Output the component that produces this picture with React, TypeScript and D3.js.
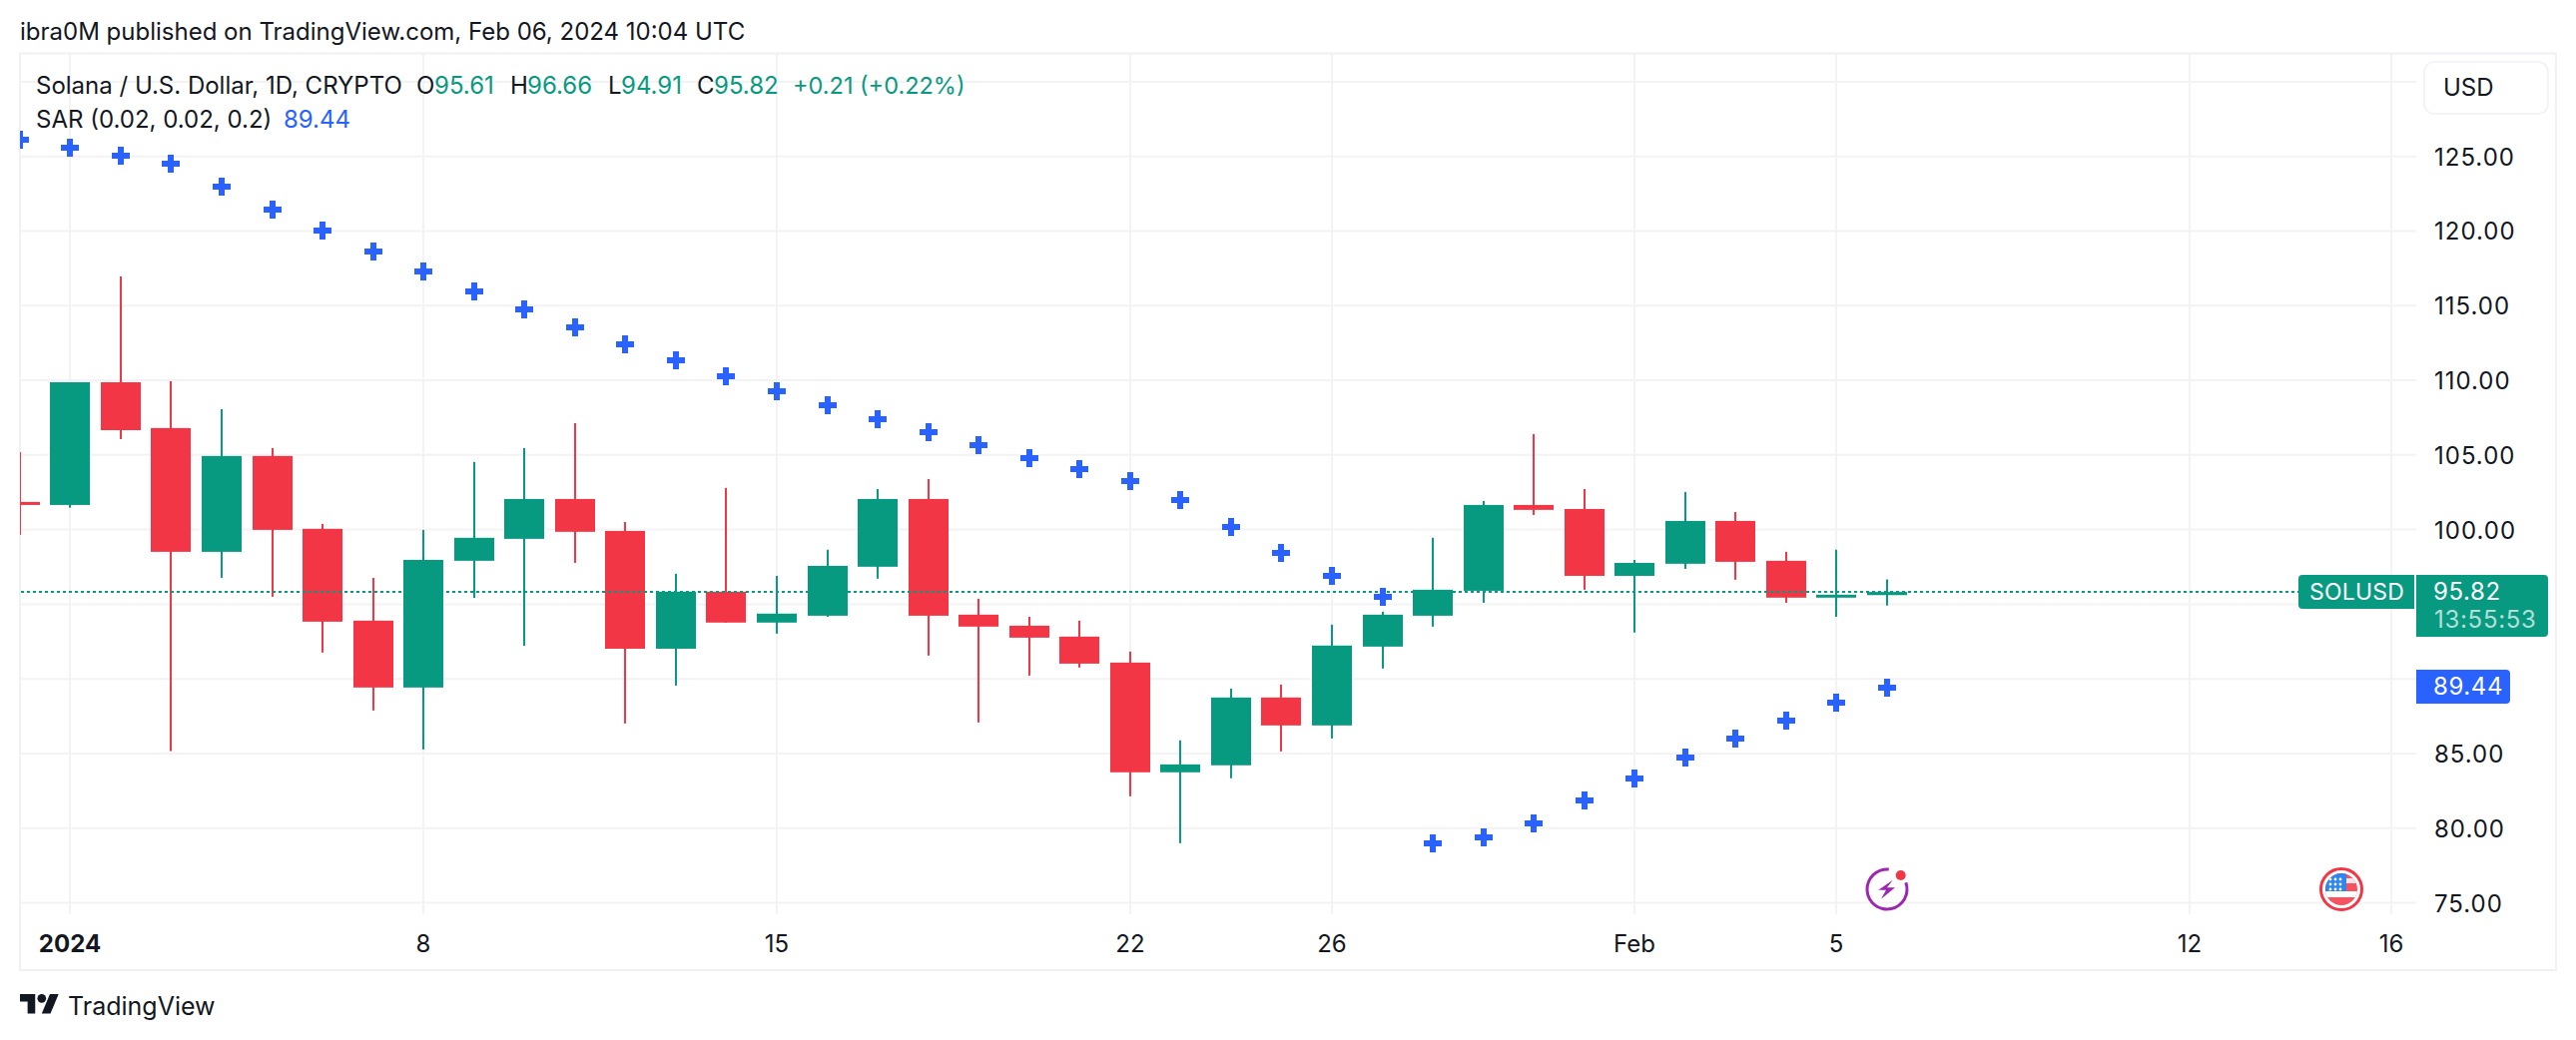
import React, { useEffect, useRef } from "react";
import * as d3 from "d3";

// Daily candles, Dec 31 2023 to Feb 6 2024
const firstDay = Date.UTC(2023, 11, 31);
const dayMs = 24 * 60 * 60 * 1000;

const opens = [
  101.85, 101.65, 109.87, 106.8, 98.51, 104.93, 100.05, 93.9, 89.42, 97.91,
  99.38, 102.05, 99.91, 92.02, 95.84, 93.77, 94.23, 97.51, 102.05, 94.3, 93.56,
  92.83, 91.09, 83.74, 84.21, 88.75, 86.88, 92.16, 94.23, 95.9, 101.65, 101.38,
  96.9, 97.71, 100.58, 97.91, 95.44, 95.61,
];
const highs = [
  105.19, 109.87, 116.96, 109.94, 108.07, 105.46, 100.38, 96.77, 99.98, 104.53,
  105.46, 107.13, 100.51, 97.04, 102.79, 96.9, 98.65, 102.72, 103.39, 95.37,
  94.16, 93.9, 91.83, 85.88, 89.35, 89.62, 93.63, 94.5, 99.45, 101.92, 106.4,
  102.72, 97.97, 102.52, 101.18, 98.51, 98.65, 96.66,
];
const lows = [
  99.65, 101.47, 106.06, 85.16, 96.77, 95.5, 91.76, 87.88, 85.27, 95.43, 92.22,
  97.77, 87.01, 89.55, 93.77, 93.03, 94.16, 96.71, 91.56, 87.08, 90.22, 90.76,
  82.13, 78.99, 83.34, 85.14, 86.01, 90.69, 93.5, 95.1, 100.98, 95.97, 93.1,
  97.37, 96.64, 95.1, 94.16, 94.91,
];
const closes = [
  101.65, 109.87, 106.66, 98.51, 104.93, 99.98, 93.83, 89.42, 97.97, 99.45,
  102.05, 99.85, 92.02, 95.84, 93.77, 94.37, 97.57, 102.05, 94.23, 93.5, 92.76,
  91.02, 83.74, 84.27, 88.75, 86.88, 92.23, 94.3, 95.97, 101.65, 101.32, 96.9,
  97.77, 100.58, 97.84, 95.44, 95.64, 95.82,
];
const sar = [
  126.12, 125.58, 125.05, 124.51, 122.97, 121.44, 120.03, 118.63, 117.29,
  115.96, 114.75, 113.55, 112.41, 111.34, 110.29, 109.3, 108.34, 107.4, 106.53,
  105.66, 104.79, 104.06, 103.26, 101.99, 100.18, 98.44, 96.91, 95.5, 78.99,
  79.39, 80.33, 81.87, 83.34, 84.74, 86.01, 87.21, 88.42, 89.44,
];

const priceTicks = [75, 80, 85, 90, 95, 100, 105, 110, 115, 120, 125, 130];
// 90 and 95 sit behind the price tags
const priceLabels = [75, 80, 85, 100, 105, 110, 115, 120, 125];
// day offsets from Jan 1 2024
const timeTicks = [0, 7, 14, 21, 25, 31, 35, 42, 46];
const timeLabels = ["2024", "8", "15", "22", "26", "Feb", "5", "12", "16"];

const lastPrice = 95.82;
const lastSar = 89.44;
const earningsDay = 36;
const usEventDay = 45;

const green = "#089981";
const red = "#f23645";
const blue = "#2962ff";
const ink = "#131722";
const gridColor = "#f3f3f5";
const frameColor = "#f0f0f6";
const font = "Inter, sans-serif";

const App = () => {
  const ref = useRef<SVGSVGElement>(null);

  useEffect(() => {
    const svg = d3.select(ref.current);
    svg.selectAll("*").remove();

    const dayX = d3
      .scaleUtc()
      .domain([new Date(Date.UTC(2024, 0, 1)), new Date(Date.UTC(2024, 1, 16))])
      .range([70, 2395]);
    const x = (i: number) =>
      Math.round(dayX(new Date(firstDay + i * dayMs)) + 0.4);
    const tickX = (d: number) => x(d + 1);
    const y = d3.scaleLinear().domain([75, 125]).range([904.5, 156.7]);

    const text = (
      px: number,
      py: number,
      str: string,
      fill = ink,
      size = 24,
      spacing = 0
    ) =>
      svg
        .append("text")
        .attr("x", px)
        .attr("y", py)
        .attr("font-family", font)
        .attr("font-size", size)
        .attr("letter-spacing", spacing)
        .attr("fill", fill)
        .text(str);

    svg
      .append("clipPath")
      .attr("id", "pane")
      .append("rect")
      .attr("x", 20)
      .attr("y", 54)
      .attr("width", 2400)
      .attr("height", 862);

    // Grid
    svg
      .selectAll(".h-grid")
      .data(priceTicks)
      .enter()
      .append("line")
      .attr("class", "h-grid")
      .attr("x1", 21)
      .attr("x2", 2420)
      .attr("y1", (d) => y(d))
      .attr("y2", (d) => y(d))
      .attr("stroke", gridColor)
      .attr("stroke-width", 2);

    svg
      .selectAll(".v-grid")
      .data(timeTicks)
      .enter()
      .append("line")
      .attr("class", "v-grid")
      .attr("x1", (d) => tickX(d))
      .attr("x2", (d) => tickX(d))
      .attr("y1", 54)
      .attr("y2", 916)
      .attr("stroke", gridColor)
      .attr("stroke-width", 2);

    // Frame
    svg
      .append("rect")
      .attr("x", 20)
      .attr("y", 53.5)
      .attr("width", 2540)
      .attr("height", 918.5)
      .attr("fill", "none")
      .attr("stroke", frameColor)
      .attr("stroke-width", 2);

    const pane = svg.append("g").attr("clip-path", "url(#pane)");

    // Wicks
    pane
      .selectAll(".wick")
      .data(opens)
      .enter()
      .append("rect")
      .attr("class", "wick")
      .attr("x", (d, i) => x(i) - 1)
      .attr("y", (d, i) => y(highs[i]))
      .attr("width", 2)
      .attr("height", (d, i) => y(lows[i]) - y(highs[i]))
      .attr("fill", (d, i) => (closes[i] >= d ? green : red));

    // Bodies
    pane
      .selectAll(".body")
      .data(opens)
      .enter()
      .append("rect")
      .attr("class", "body")
      .attr("x", (d, i) => x(i) - 20)
      .attr("y", (d, i) => y(Math.max(d, closes[i])))
      .attr("width", 40)
      .attr("height", (d, i) => Math.abs(y(d) - y(closes[i])))
      .attr("fill", (d, i) => (closes[i] >= d ? green : red));

    // Last price line
    pane
      .append("line")
      .attr("x1", 21)
      .attr("x2", 2302)
      .attr("y1", Math.round(y(lastPrice)))
      .attr("y2", Math.round(y(lastPrice)))
      .attr("stroke", green)
      .attr("stroke-width", 2)
      .attr("stroke-dasharray", "3 3");

    // Parabolic SAR crosses
    pane
      .selectAll(".sar")
      .data(sar)
      .enter()
      .append("path")
      .attr("class", "sar")
      .attr("transform", (d, i) => `translate(${x(i)}, ${Math.round(y(d))})`)
      .attr("d", "M-3-9h6v6h6v6h-6v6h-6v-6h-6v-6h6z")
      .attr("fill", blue);

    // Header and legend
    text(20, 40, "ibra0M published on TradingView.com, Feb 06, 2024 10:04 UTC");
    text(36, 94, "Solana / U.S. Dollar, 1D, CRYPTO");
    text(417, 94, "O");
    text(435, 94, "95.61", green);
    text(511, 94, "H");
    text(528, 94, "96.66", green);
    text(609, 94, "L");
    text(622, 94, "94.91", green);
    text(698, 94, "C");
    text(715, 94, "95.82", green);
    text(794, 94, "+0.21 (+0.22%)", green, 23.5);
    text(36, 128, "SAR (0.02, 0.02, 0.2)");
    text(284, 128, "89.44", blue);

    // Price axis
    svg
      .selectAll(".price-label")
      .data(priceLabels)
      .enter()
      .append("text")
      .attr("class", "price-label")
      .attr("x", 2438)
      .attr("y", (d) => y(d) + 9)
      .attr("font-family", font)
      .attr("font-size", 24)
      .attr("letter-spacing", 1)
      .attr("fill", ink)
      .text((d) => d.toFixed(2));

    svg
      .append("rect")
      .attr("x", 2428)
      .attr("y", 62)
      .attr("width", 124)
      .attr("height", 52)
      .attr("rx", 10)
      .attr("fill", "#fff")
      .attr("stroke", frameColor)
      .attr("stroke-width", 1.5);
    text(2447, 96, "USD");

    // Time axis
    svg
      .selectAll(".time-label")
      .data(timeTicks)
      .enter()
      .append("text")
      .attr("class", "time-label")
      .attr("x", (d) => tickX(d))
      .attr("y", 954)
      .attr("text-anchor", "middle")
      .attr("font-family", font)
      .attr("font-size", 24)
      .attr("font-weight", (d, i) => (i === 0 ? 700 : 400))
      .attr("fill", ink)
      .text((d, i) => timeLabels[i]);

    // Last price tags
    svg
      .append("path")
      .attr("d", "M2306 576h112v34h-112a4 4 0 0 1-4-4v-26a4 4 0 0 1 4-4z")
      .attr("fill", green);
    text(2313, 601, "SOLUSD", "#fff", 23, 0.2);
    svg
      .append("path")
      .attr("d", "M2420 576h128a4 4 0 0 1 4 4v54a4 4 0 0 1-4 4h-128z")
      .attr("fill", green);
    text(2437, 601, lastPrice.toFixed(2), "#fff", 24, 0.6);
    text(2438, 629, "13:55:53", "rgba(255,255,255,0.7)", 24, 0.7);
    svg
      .append("path")
      .attr("d", "M2420 671h90a4 4 0 0 1 4 4v26a4 4 0 0 1-4 4h-90z")
      .attr("fill", blue);
    text(2437, 696, lastSar.toFixed(2), "#fff", 24, 0.6);

    // Earnings marker
    const bolt = svg
      .append("g")
      .attr("transform", `translate(${x(earningsDay + 1)}, 891)`);
    bolt
      .append("path")
      .attr(
        "d",
        d3.arc()({
          innerRadius: 18.5,
          outerRadius: 21.5,
          startAngle: (70 * Math.PI) / 180,
          endAngle: (365 * Math.PI) / 180,
        })
      )
      .attr("fill", "#9c27b0");
    bolt
      .append("path")
      .attr("d", "M5.7-9.3L-8.7.7H-1L-6 9.7L8-1.7H0z")
      .attr("fill", "#9c27b0");
    bolt
      .append("circle")
      .attr("cx", 13.7)
      .attr("cy", -14)
      .attr("r", 5)
      .attr("fill", red);

    // US economic event marker
    const flag = svg
      .append("g")
      .attr("transform", `translate(${x(usEventDay + 1)}, 891)`);
    flag
      .append("clipPath")
      .attr("id", "flag-clip")
      .append("circle")
      .attr("r", 16);
    flag
      .append("circle")
      .attr("r", 20.5)
      .attr("fill", "#fff")
      .attr("stroke", red)
      .attr("stroke-width", 3);
    const flagFill = flag.append("g").attr("clip-path", "url(#flag-clip)");
    flagFill
      .append("rect")
      .attr("x", -16)
      .attr("y", -16)
      .attr("width", 32)
      .attr("height", 32)
      .attr("fill", "#f7525f");
    flagFill
      .append("rect")
      .attr("x", -16)
      .attr("y", -11)
      .attr("width", 32)
      .attr("height", 5)
      .attr("fill", "#fbe3e4");
    flagFill
      .append("rect")
      .attr("x", -16)
      .attr("y", 2)
      .attr("width", 32)
      .attr("height", 6)
      .attr("fill", "#fff");
    flagFill
      .append("rect")
      .attr("x", -16)
      .attr("y", -16)
      .attr("width", 21)
      .attr("height", 18)
      .attr("fill", "#2e86ee");
    [-10, -5, 0].forEach((sy) =>
      [-11, -6, -1].forEach((sx) =>
        flagFill
          .append("circle")
          .attr("cx", sx)
          .attr("cy", sy)
          .attr("r", 1.4)
          .attr("fill", "#fff")
      )
    );

    // Logo
    const logo = svg
      .append("g")
      .attr("transform", "translate(20, 991.6) scale(1.09)");
    logo.append("path").attr("d", "M14 22H7V11H0V4h14v18z").attr("fill", ink);
    logo.append("path").attr("d", "M28 22h-8l7.5-18h8L28 22z").attr("fill", ink);
    logo
      .append("circle")
      .attr("cx", 20)
      .attr("cy", 8)
      .attr("r", 4)
      .attr("fill", ink);
    text(68, 1017, "TradingView", ink, 25);
  }, []);

  return (
    <svg
      ref={ref}
      width={2580}
      height={1042}
      style={{ position: "absolute", left: 0, top: 0, display: "block" }}
    />
  );
};

export default App;
